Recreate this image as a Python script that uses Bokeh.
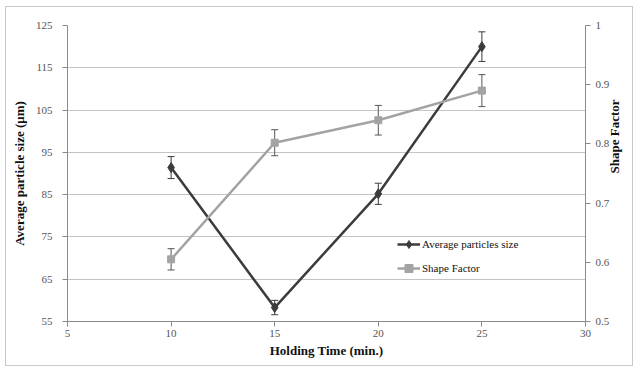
import math
from bokeh.plotting import figure
from bokeh.models import (Range1d, LinearAxis, FixedTicker, Whisker, TeeHead,
                          ColumnDataSource, Legend, LegendItem)
from bokeh.embed import file_html
from bokeh.resources import INLINE

# ---- data ----
time = [10, 15, 20, 25]
avg_size = [91.4, 58.3, 85.2, 120.0]
avg_size_err = [2.6, 1.7, 2.5, 3.5]
shape_factor = [0.605, 0.802, 0.840, 0.890]
shape_factor_err = [0.018, 0.022, 0.025, 0.027]

x_ticks = [5, 10, 15, 20, 25, 30]
left_ticks = [55, 65, 75, 85, 95, 105, 115, 125]
right_ticks = [0.5, 0.6, 0.7, 0.8, 0.9, 1.0]
right_labels = {0.5: "0.5", 0.6: "0.6", 0.7: "0.7", 0.8: "0.8", 0.9: "0.9", 1.0: "1"}

SERIF = "Liberation Serif"
DARK = "#3c3c3c"
GRAY = "#a3a3a3"
AXIS = "#8a8a8a"
TICKTXT = "#555555"

src_a = ColumnDataSource(dict(x=time, y=avg_size,
                              lo=[v - e for v, e in zip(avg_size, avg_size_err)],
                              hi=[v + e for v, e in zip(avg_size, avg_size_err)]))
src_s = ColumnDataSource(dict(x=time, y=shape_factor,
                              lo=[v - e for v, e in zip(shape_factor, shape_factor_err)],
                              hi=[v + e for v, e in zip(shape_factor, shape_factor_err)]))

p = figure(frame_width=518, frame_height=296, output_backend="svg", toolbar_location=None,
           x_range=Range1d(5, 30), y_range=Range1d(55, 125),
           min_border_left=61, min_border_right=44, min_border_top=18, min_border_bottom=44)
p.styles = {"border": "1px solid #c8c8c8", "margin-left": "5px", "margin-top": "6px"}
p.outline_line_color = None
p.background_fill_color = "white"
p.border_fill_color = "white"

p.extra_y_ranges = {"shape": Range1d(0.5, 1.0)}

# grid
p.xgrid.visible = False
p.ygrid.ticker = FixedTicker(ticks=left_ticks)
p.ygrid.grid_line_color = "#c4c4c4"
p.ygrid.grid_line_width = 1.2

def style_axis(ax):
    ax.axis_line_color = AXIS
    ax.major_tick_line_color = AXIS
    ax.minor_tick_line_color = None
    ax.major_tick_in = 0
    ax.major_tick_out = 5
    ax.major_label_text_font = SERIF
    ax.major_label_text_font_size = "11px"
    ax.major_label_text_color = TICKTXT
    ax.axis_label_text_font = SERIF
    ax.axis_label_text_font_style = "bold"
    ax.axis_label_text_font_size = "13px"
    ax.axis_label_text_color = "#111111"

# x axis
xa = p.xaxis[0]
style_axis(xa)
xa.ticker = FixedTicker(ticks=x_ticks)
xa.axis_label = "Holding Time (min.)"
xa.major_label_standoff = 3
xa.axis_label_standoff = 3

# left axis
ya = p.yaxis[0]
style_axis(ya)
ya.ticker = FixedTicker(ticks=left_ticks)
ya.axis_label = "Average particle size (μm)"
ya.major_label_standoff = 10
ya.axis_label_standoff = 6

# right axis
ra = LinearAxis(y_range_name="shape")
style_axis(ra)
ra.ticker = FixedTicker(ticks=right_ticks)
ra.major_label_overrides = right_labels
ra.major_label_standoff = 5
ra.axis_label = "Shape Factor"
ra.axis_label_standoff = 2
try:
    ra.axis_label_orientation = math.pi / 2
except Exception:
    pass
p.add_layout(ra, "right")

# series: average particle size
la = p.line("x", "y", source=src_a, line_color=DARK, line_width=2.5)
ma = p.scatter("x", "y", source=src_a, marker="diamond", size=10,
               fill_color=DARK, line_color=DARK)
p.add_layout(Whisker(source=src_a, base="x", lower="lo", upper="hi",
                     line_color=DARK, line_width=1,
                     upper_head=TeeHead(size=7, line_color=DARK, line_width=1),
                     lower_head=TeeHead(size=7, line_color=DARK, line_width=1)))

# series: shape factor
ls = p.line("x", "y", source=src_s, line_color=GRAY, line_width=2.5, y_range_name="shape")
ms = p.scatter("x", "y", source=src_s, marker="square", size=7,
               fill_color=GRAY, line_color=GRAY, y_range_name="shape")
p.add_layout(Whisker(source=src_s, base="x", lower="lo", upper="hi", y_range_name="shape",
                     line_color="#555555", line_width=1,
                     upper_head=TeeHead(size=7, line_color="#555555", line_width=1),
                     lower_head=TeeHead(size=7, line_color="#555555", line_width=1)))

legend = Legend(items=[LegendItem(label="Average particles size", renderers=[la, ma]),
                       LegendItem(label="Shape Factor", renderers=[ls, ms])],
                location=(330, 43))
legend.border_line_color = None
legend.background_fill_alpha = 0
legend.padding = 0
legend.margin = 0
legend.spacing = 4
legend.glyph_width = 23
legend.glyph_height = 20
legend.label_standoff = 2
legend.label_text_font = SERIF
legend.label_text_font_size = "11px"
legend.label_text_color = "#111111"
p.add_layout(legend, "center")

open("out.html", "w").write(file_html(p, INLINE))
